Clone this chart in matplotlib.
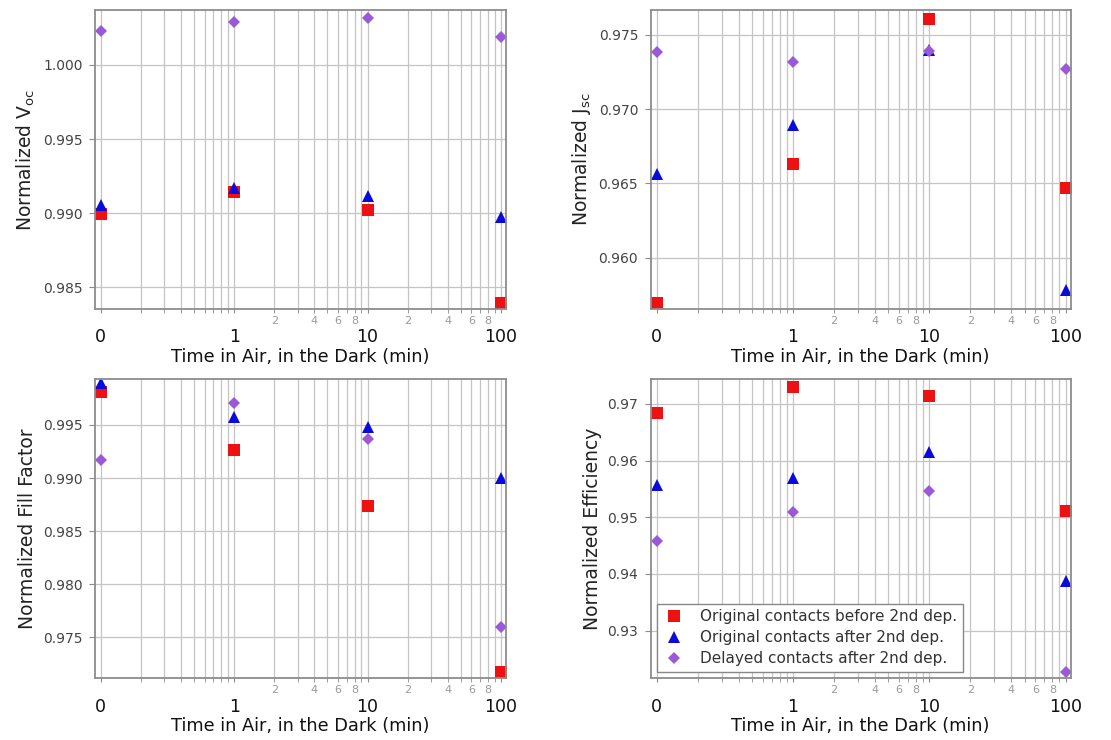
import matplotlib
matplotlib.use("Agg")
import matplotlib.pyplot as plt
from matplotlib.ticker import FixedLocator, FixedFormatter, FuncFormatter

# "0 min" is placed at 0.1 on the log axis, as in the original figure
time_pos = [0.1, 1, 10, 100]
time_labels = ["0", "1", "10", "100"]

series_names = [
    "Original contacts before 2nd dep.",
    "Original contacts after 2nd dep.",
    "Delayed contacts after 2nd dep.",
]

voc_before = [0.98995, 0.99145, 0.99022, 0.98392]
voc_after = [0.99055, 0.99170, 0.99116, 0.98976]
voc_delayed = [1.00227, 1.00288, 1.00315, 1.00191]

jsc_before = [0.95692, 0.96629, 0.97608, 0.96467]
jsc_after = [0.96563, 0.96892, 0.97399, 0.95782]
jsc_delayed = [0.97383, 0.97318, 0.97395, 0.97269]

ff_before = [0.99814, 0.99265, 0.98737, 0.97176]
ff_after = [0.99899, 0.99578, 0.99484, 0.98998]
ff_delayed = [0.99170, 0.99710, 0.99368, 0.97594]

eff_before = [0.96835, 0.97306, 0.97147, 0.95112]
eff_after = [0.95571, 0.95688, 0.96147, 0.93882]
eff_delayed = [0.94588, 0.95088, 0.95465, 0.92276]

STYLES = [
    dict(marker="s", color="#ee1111", markersize=8.5),
    dict(marker="^", color="#0a0adc", markersize=8.5),
    dict(marker="D", color="#9a5ad8", markersize=5.8),
]

GRID = "#c4c4c4"
SPINE = "#8c8c8c"


def minor_label(x, _pos):
    for d in (2, 4, 6, 8):
        for scale in (1, 10):
            if abs(x - d * scale) < 1e-6:
                return str(d)
    return ""


def setup_axes(ax, ylabel, ylim, yticks, yfmt):
    ax.set_xscale("log")
    ax.set_xlim(0.0906, 109)
    ax.set_ylim(*ylim)

    minors = [m * 10.0 ** e for e in (-1, 0, 1) for m in range(2, 10)]
    ax.xaxis.set_major_locator(FixedLocator(time_pos))
    ax.xaxis.set_major_formatter(FixedFormatter(time_labels))
    ax.xaxis.set_minor_locator(FixedLocator(minors))
    ax.xaxis.set_minor_formatter(FuncFormatter(minor_label))
    ax.tick_params(axis="x", which="major", labelsize=12.5, pad=11,
                   length=3, color=SPINE, labelcolor="#111111")
    ax.tick_params(axis="x", which="minor", labelsize=8, pad=2,
                   length=3, color=SPINE, labelcolor="#9a9a9a")

    ax.set_yticks(yticks)
    ax.yaxis.set_major_formatter(FuncFormatter(lambda v, _p: yfmt.format(v)))
    ax.tick_params(axis="y", labelsize=10, length=4, pad=5, color=SPINE,
                   labelcolor="#444444")

    ax.grid(True, which="both", axis="x", color=GRID, linewidth=0.9)
    ax.grid(True, which="major", axis="y", color=GRID, linewidth=0.9)
    ax.set_axisbelow(True)
    for sp in ax.spines.values():
        sp.set_color(SPINE)
        sp.set_linewidth(1.3)

    ax.set_xlabel("Time in Air, in the Dark (min)", fontsize=12.8,
                  labelpad=1, color="#111111")
    ax.set_ylabel(ylabel, fontsize=13.5, color="#222222", labelpad=4)


def plot_panel(ax, before, after, delayed):
    handles = []
    for vals, st in zip((before, after, delayed), STYLES):
        (h,) = ax.plot(time_pos, vals, linestyle="none", markeredgewidth=0,
                       **st)
        handles.append(h)
    return handles


fig = plt.figure(figsize=(11.11, 7.40), dpi=100)
W, H = 0.3699, 0.4041
ax_voc = fig.add_axes([0.0855, 0.5824, W, H])
ax_jsc = fig.add_axes([0.5857, 0.5824, 0.3780, H])
ax_ff = fig.add_axes([0.0855, 0.0834, W, H])
ax_eff = fig.add_axes([0.5857, 0.0834, 0.3780, H])

plot_panel(ax_voc, voc_before, voc_after, voc_delayed)
setup_axes(ax_voc, r"Normalized V$_{\mathrm{oc}}$", (0.98354, 1.00371),
           [0.985, 0.990, 0.995, 1.000], "{:.3f}")

plot_panel(ax_jsc, jsc_before, jsc_after, jsc_delayed)
setup_axes(ax_jsc, r"Normalized J$_{\mathrm{sc}}$", (0.95654, 0.97668),
           [0.960, 0.965, 0.970, 0.975], "{:.3f}")

plot_panel(ax_ff, ff_before, ff_after, ff_delayed)
setup_axes(ax_ff, "Normalized Fill Factor", (0.97114, 0.9993),
           [0.975, 0.980, 0.985, 0.990, 0.995], "{:.3f}")

handles = plot_panel(ax_eff, eff_before, eff_after, eff_delayed)
setup_axes(ax_eff, "Normalized Efficiency", (0.92160, 0.97436),
           [0.93, 0.94, 0.95, 0.96, 0.97], "{:.2f}")

leg = ax_eff.legend(handles, series_names, loc="lower left",
                    bbox_to_anchor=(0.014, 0.022), fontsize=11,
                    fancybox=False, framealpha=1, edgecolor="#888888",
                    borderpad=0.35, handletextpad=0.9, labelspacing=0.4,
                    handlelength=1.6, borderaxespad=0.0)
leg.get_frame().set_linewidth(1.0)
for t in leg.get_texts():
    t.set_color("#333333")

fig.savefig("out.png", dpi=100)
